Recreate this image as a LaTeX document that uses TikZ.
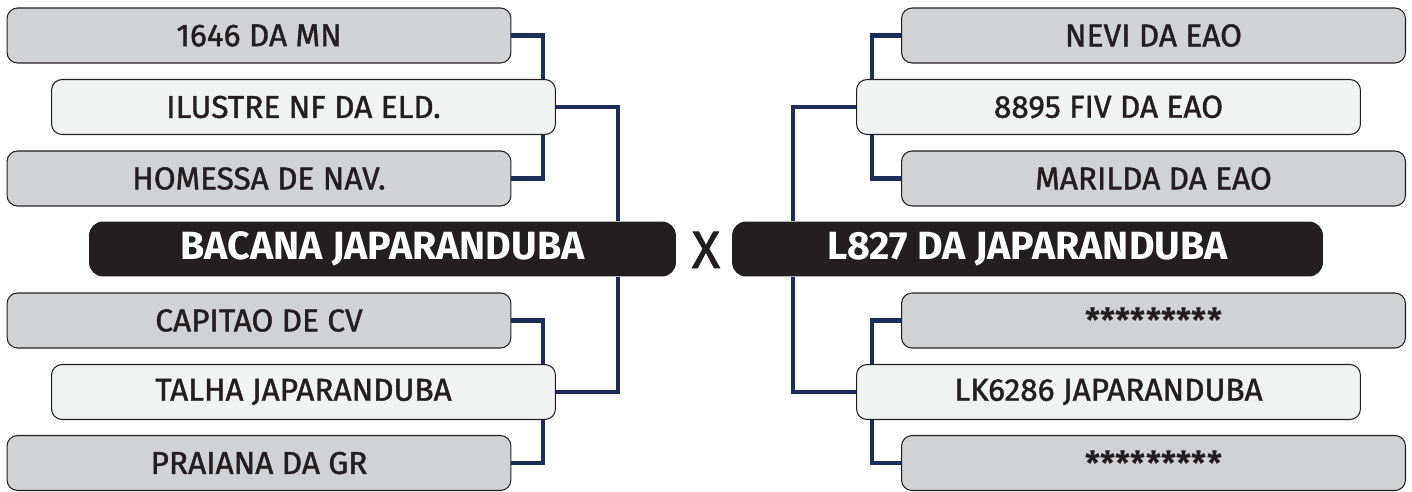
\documentclass[tikz,border=0pt]{standalone}
\usepackage{fontspec}
\setmainfont{Fira Sans}
\newfontfamily\teamfont{Fira Sans}[FakeBold=1.3]
\usepackage{tikz}
\usetikzlibrary{positioning,calc}

\definecolor{teamgrey}{HTML}{D1D2D4}
\definecolor{teamlight}{HTML}{F1F2F2}
\definecolor{teamblack}{HTML}{231F20}
\definecolor{linknavy}{HTML}{1C2E57}

\begin{document}
\begin{tikzpicture}[x=0.02cm,y=-0.02cm,
    teambox/.style={draw=teamblack,line width=0.6pt,rounded corners=6pt,
        minimum width=10.08cm,minimum height=1.1cm,inner sep=0pt,
        font=\teamfont\fontsize{18}{20}\selectfont,text=teamblack},
    seedbox/.style={teambox,fill=teamgrey},
    winbox/.style={teambox,fill=teamlight},
    blankbox/.style={seedbox,font=\bfseries\fontsize{19}{20}\selectfont},
    finalbox/.style={draw=none,fill=teamblack,rounded corners=8pt,
        minimum height=1.1cm,inner sep=0pt,text=white,
        font=\bfseries\fontsize{22.4}{24}\selectfont},
    link/.style={draw=linknavy,line width=2.3pt,line join=miter}]
    \useasboundingbox (0,0) rectangle (1412,492);

    % left bracket
    \node[seedbox] (mn) at (259,35.5) {1646 DA MN};
    \node[winbox] (ilustre) at (303.5,107) {ILUSTRE NF DA ELD.};
    \node[seedbox] (homessa) at (259,178.5) {HOMESSA DE NAV.};
    \node[finalbox,minimum width=11.74cm] (bacana) at (382.5,249) {BACANA JAPARANDUBA};
    \node[seedbox] (capitao) at (259,320.5) {CAPITAO DE CV};
    \node[winbox] (talha) at (303.5,392) {TALHA JAPARANDUBA};
    \node[seedbox] (praiana) at (259,463) {PRAIANA DA GR};

    % right bracket
    \node[seedbox] (nevi) at (1153.5,35.5) {NEVI DA EAO};
    \node[winbox] (fiv) at (1108.5,107) {8895 FIV DA EAO};
    \node[seedbox] (marilda) at (1153.5,178.5) {MARILDA DA EAO};
    \node[finalbox,minimum width=11.82cm] (lsix) at (1027.5,249) {L827 DA JAPARANDUBA};
    \node[blankbox] (stara) at (1153.5,320.5) {*********};
    \node[winbox] (lk) at (1108.5,392) {LK6286 JAPARANDUBA};
    \node[blankbox] (starb) at (1153.5,463) {*********};

    \node[font=\teamfont\fontsize{30}{32}\selectfont,text=teamblack] (versus) at (706,250) {X};

    % bracket rails
    \coordinate (lrail) at (543,0);
    \coordinate (lmain) at (618,0);
    \coordinate (rrail) at (872,0);
    \coordinate (rmain) at (793,0);

    % connections
    \draw[link] (mn.east) -| (lrail |- ilustre.north);
    \draw[link] (ilustre.south -| lrail) |- (homessa.east);
    \draw[link] (ilustre.east) -| (lmain |- bacana.north);
    \draw[link] (bacana.south -| lmain) |- (talha.east);
    \draw[link] (capitao.east) -| (lrail |- talha.north);
    \draw[link] (talha.south -| lrail) |- (praiana.east);

    \draw[link] (nevi.west) -| (rrail |- fiv.north);
    \draw[link] (fiv.south -| rrail) |- (marilda.west);
    \draw[link] (fiv.west) -| (rmain |- lsix.north);
    \draw[link] (lsix.south -| rmain) |- (lk.west);
    \draw[link] (stara.west) -| (rrail |- lk.north);
    \draw[link] (lk.south -| rrail) |- (starb.west);
\end{tikzpicture}
\end{document}
